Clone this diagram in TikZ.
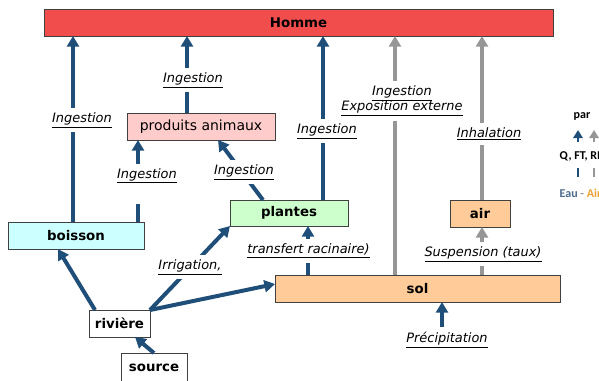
\documentclass[tikz,border=0pt]{standalone}
\usepackage{fontspec}
\setmainfont{DejaVu Sans}
\newfontfamily\legendfont{Carlito}
\usetikzlibrary{arrows.meta}

\definecolor{hommered}{HTML}{F24D4D}
\definecolor{animalpink}{HTML}{FFCCCC}
\definecolor{boissoncyan}{HTML}{CCFFFF}
\definecolor{plantegreen}{HTML}{CCFFCC}
\definecolor{solorange}{HTML}{FFCC99}
\definecolor{boxline}{HTML}{404040}
\definecolor{eaublue}{HTML}{1F4E79}
\definecolor{airgray}{HTML}{969696}
\definecolor{legblue}{HTML}{4A6A8C}
\definecolor{legorange}{HTML}{F0A030}

\begin{document}
\begin{tikzpicture}[
  x=0.75pt, y=-0.75pt,
  box/.style={draw=boxline, line width=0.75pt, inner sep=0pt, outer sep=0pt,
    minimum height=20.25pt, font=\fontsize{10}{12}\selectfont\bfseries},
  eau/.style={line width=3pt, draw=eaublue, -{Triangle[width=9pt,length=8pt]}},
  sec/.style={eau, draw=airgray},
  lbl/.style={fill=white, inner sep=3.5pt, align=center,
    font=\fontsize{9.7}{11.5}\selectfont\itshape},
  leg/.style={font=\legendfont\bfseries\fontsize{9}{10}\selectfont, anchor=west},
]
  \useasboundingbox (0,0) rectangle (599,380);

  % boxes
  \node[box, fill=hommered, minimum width=381.75pt] (homme) at (298.5,22.5) {Homme};
  \node[box, fill=animalpink, minimum width=111pt,
    font=\fontsize{10.5}{12}\selectfont] (produits) at (201,126.5) {produits animaux};
  \node[box, fill=boissoncyan, minimum width=102pt] (boisson) at (76,235.5) {boisson};
  \node[box, fill=plantegreen, minimum width=88.5pt, minimum height=19.5pt]
    (plantes) at (289,213) {plantes};
  \node[box, fill=solorange, minimum width=45pt] (air) at (480,213.5) {air};
  \node[box, fill=solorange, minimum width=213.75pt] (sol) at (417.5,288.5) {sol};
  \node[box, fill=white, minimum width=45.75pt] (riviere) at (119.5,323.5) {rivière};
  \node[box, fill=white, minimum width=49.5pt, minimum height=22.5pt]
    (source) at (154,368) {source};
  \node[lbl] (precip) at (447,340) {\underline{Précipitation}};

  % transfers to Homme
  \draw[eau] (73,0 |- boisson.north) -- (73,0 |- homme.south);
  \draw[eau] (187,0 |- produits.north) -- (187,0 |- homme.south);
  \draw[eau] (323,0 |- plantes.north) -- (323,0 |- homme.south);
  \draw[sec] (395,0 |- sol.north) -- (395,0 |- homme.south);
  \draw[sec] (482,0 |- air.north) -- (482,0 |- homme.south);

  % between compartments
  \draw[eau] (138,0 |- boisson.north) -- (138,0 |- produits.south);
  \draw[eau] (263,0 |- plantes.north) -- (218,0 |- produits.south);
  \draw[eau] (308,0 |- sol.north) -- (308,0 |- plantes.south);
  \draw[sec] (482,0 |- sol.north) -- (482,0 |- air.south);
  \draw[eau] (95,0 |- riviere.north) -- (58,0 |- boisson.south);
  \draw[eau] (riviere.north east) -- (plantes.south west);
  \draw[eau] (riviere.north east) -- (sol.west |- 0,284);
  \draw[eau] (source.north) -- (135,0 |- riviere.south);
  \draw[eau] (442,0 |- precip.north) -- (442,0 |- sol.south);

  % labels
  \node[lbl] (ingboisson) at (82,120) {\underline{Ingestion}};
  \node[lbl] (ingproduits) at (193,80) {\underline{Ingestion}};
  \node[lbl, anchor=base, text depth=16pt] (inglait) at (147,178) {\underline{Ingestion}};
  \node[lbl] (ingplantesp) at (244,172) {\underline{Ingestion}};
  \node[lbl] (ingplantes) at (327,131) {\underline{Ingestion}};
  \node[lbl] (ingsol) at (402,101) {\underline{Ingestion}\\\underline{Exposition externe}};
  \node[lbl] (inhal) at (489,134) {\underline{Inhalation}};
  \node[lbl] (suspens) at (483,254) {\underline{Suspension (taux)}};
  \node[lbl] (racine) at (308.5,251) {\underline{transfert racinaire)}};
  \node[lbl] (irrig) at (190,267) {\underline{Irrigation,}};

  % legend (cut at the right edge)
  \node[leg, anchor=center] (par) at (582,116) {par};
  \draw[eau, line width=2.2pt, -{Triangle[width=7pt,length=6pt]}] (578,142) -- (578,130);
  \draw[sec, line width=2.2pt, -{Triangle[width=7pt,length=6pt]}] (594,142) -- (594,130);
  \node[leg] (params) at (555,156) {Q, FT, RI};
  \draw[eaublue, line width=2.2pt] (578,168) -- (578,177);
  \draw[airgray, line width=2.2pt] (594,168) -- (594,177);
  \node[leg] (milieux) at (555,193) {\textcolor{legblue}{Eau} \textcolor{airgray}{-} \textcolor{legorange}{Air}};
\end{tikzpicture}
\end{document}
